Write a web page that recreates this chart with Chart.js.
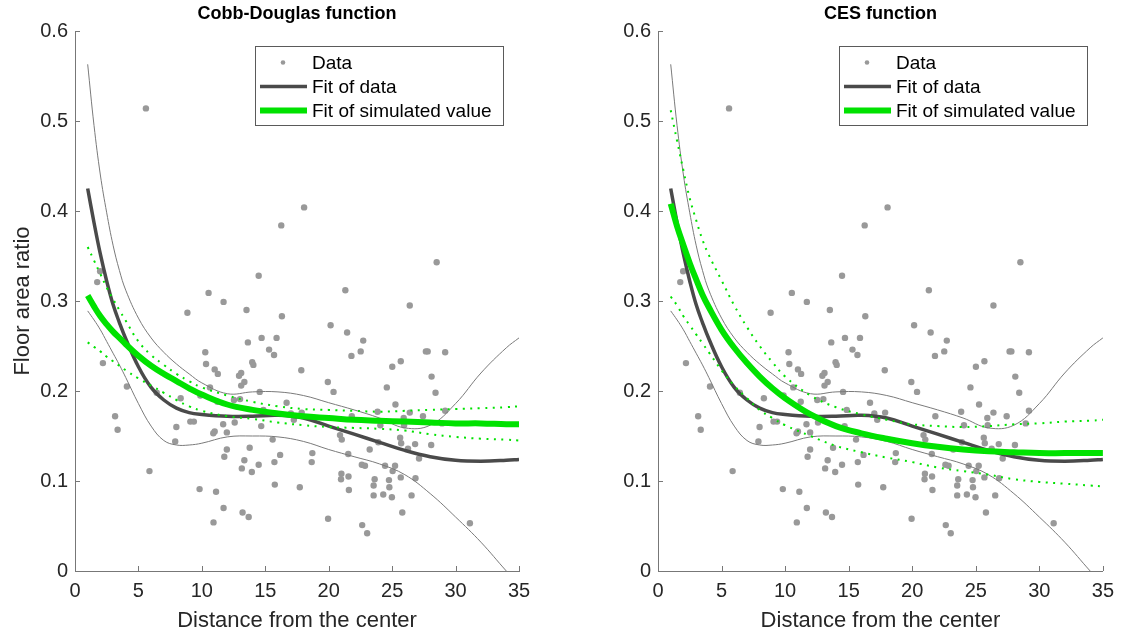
<!DOCTYPE html>
<html>
<head>
<meta charset="utf-8">
<script src="https://cdn.jsdelivr.net/npm/chart.js@4"></script>
<style>
  html, body { margin: 0; padding: 0; background: #fff; }
  #wrap { position: relative; width: 1122px; height: 640px; }
  #wrap canvas { position: absolute; top: 0; }
</style>
</head>
<body>
<div id="wrap">
  <canvas id="cobbDouglas" width="561" height="640" style="left:0"></canvas>
  <canvas id="ces" width="561" height="640" style="left:561px"></canvas>
</div>
<script>
// observed points (distance, floor area ratio) - same in both panels
const distX = [5.59, 18.06, 16.26, 28.51, 14.48, 1.75, 1.98, 21.31, 10.53, 11.71,
  26.39, 8.86, 13.52, 16.31, 20.15, 21.45, 14.71, 15.89, 22.72, 13.63,
  15.30, 22.52, 27.66, 27.80, 29.18, 10.27, 15.69, 21.79, 2.20, 10.33,
  13.97, 14.06, 25.68, 25.01, 11.01, 11.26, 17.84, 13.10, 12.93, 28.11,
  13.35, 19.93, 13.10, 10.64, 4.09, 24.58, 14.56, 20.38, 28.42, 9.88,
  6.44, 25.26, 16.68, 12.53, 13.01, 8.33, 11.23, 29.18, 23.85, 14.85,
  3.16, 27.43, 21.82, 26.39, 17.87, 17.02, 9.09, 9.37, 17.25, 12.59,
  25.91, 24.07, 25.94, 28.93, 11.68, 14.68, 3.36, 7.99, 11.01, 11.97,
  10.90, 20.89, 21.03, 25.63, 15.58, 26.81, 28.08, 7.90, 23.91, 25.71,
  26.25, 23.23, 13.77, 11.97, 11.77, 18.71, 21.54, 16.17, 27.12, 13.35,
  15.72, 18.66, 14.48, 22.61, 22.86, 24.44, 25.23, 13.15, 13.94, 5.87,
  25.04, 21.00, 20.97, 21.56, 23.62, 24.75, 26.84, 25.68, 15.75, 17.72,
  23.54, 24.78, 9.82, 11.12, 21.59, 23.54, 24.30, 24.98, 26.53, 11.71,
  13.21, 25.80, 13.69, 19.95, 10.92, 22.64, 31.13, 23.03];
const floorRatio = [0.514, 0.404, 0.384, 0.343, 0.328, 0.321, 0.333, 0.312, 0.309, 0.299,
  0.295, 0.287, 0.290, 0.283, 0.273, 0.265, 0.259, 0.259, 0.256, 0.254,
  0.246, 0.244, 0.244, 0.244, 0.243, 0.243, 0.240, 0.239, 0.231, 0.230,
  0.232, 0.229, 0.233, 0.227, 0.224, 0.219, 0.223, 0.220, 0.217, 0.216,
  0.210, 0.210, 0.206, 0.204, 0.205, 0.204, 0.199, 0.199, 0.198, 0.195,
  0.198, 0.185, 0.187, 0.190, 0.191, 0.192, 0.188, 0.178, 0.177, 0.179,
  0.172, 0.172, 0.172, 0.176, 0.176, 0.175, 0.166, 0.166, 0.168, 0.165,
  0.170, 0.162, 0.162, 0.164, 0.163, 0.161, 0.157, 0.160, 0.155, 0.154,
  0.153, 0.151, 0.146, 0.148, 0.146, 0.141, 0.140, 0.144, 0.143, 0.142,
  0.136, 0.135, 0.137, 0.135, 0.127, 0.131, 0.130, 0.129, 0.125, 0.123,
  0.121, 0.121, 0.118, 0.118, 0.117, 0.117, 0.117, 0.114, 0.110, 0.111,
  0.111, 0.108, 0.102, 0.105, 0.102, 0.101, 0.103, 0.104, 0.096, 0.093,
  0.095, 0.093, 0.091, 0.088, 0.090, 0.084, 0.085, 0.082, 0.084, 0.070,
  0.065, 0.065, 0.060, 0.058, 0.054, 0.051, 0.053, 0.042];

// x positions the fitted curves are read at
const fitX = [1, 1.5, 2, 2.5, 3, 3.5, 4, 5, 6, 7, 8, 9, 10, 12, 14, 16, 18, 20, 22, 24, 26, 28, 30, 32, 34, 35];

// fit of data + its bounds (same in both panels)
const fitData  = [0.425, 0.387, 0.352, 0.322, 0.296, 0.276, 0.258, 0.227, 0.204, 0.190, 0.181, 0.176, 0.174, 0.172, 0.172, 0.173, 0.170, 0.161, 0.152, 0.143, 0.134, 0.127, 0.123, 0.122, 0.123, 0.124];
const fitUpper = [0.563, 0.495, 0.440, 0.398, 0.362, 0.334, 0.312, 0.281, 0.259, 0.243, 0.230, 0.219, 0.209, 0.197, 0.199, 0.199, 0.195, 0.187, 0.179, 0.170, 0.159, 0.162, 0.186, 0.220, 0.248, 0.259];
const fitLower = [0.289, 0.279, 0.268, 0.255, 0.242, 0.229, 0.215, 0.186, 0.161, 0.145, 0.140, 0.140, 0.142, 0.149, 0.150, 0.149, 0.144, 0.135, 0.127, 0.119, 0.107, 0.086, 0.060, 0.032, 0.000, -0.015];

// fit of simulated value, Cobb-Douglas
const cdSim      = [0.306, 0.294, 0.283, 0.274, 0.266, 0.259, 0.252, 0.239, 0.228, 0.219, 0.211, 0.203, 0.196, 0.185, 0.179, 0.175, 0.172, 0.170, 0.168, 0.167, 0.166, 0.165, 0.164, 0.164, 0.163, 0.163];
const cdSimUpper = [0.360, 0.345, 0.330, 0.315, 0.302, 0.290, 0.278, 0.255, 0.240, 0.229, 0.219, 0.211, 0.204, 0.195, 0.188, 0.183, 0.180, 0.179, 0.178, 0.177, 0.178, 0.179, 0.180, 0.181, 0.182, 0.183];
const cdSimLower = [0.254, 0.249, 0.244, 0.238, 0.233, 0.228, 0.223, 0.214, 0.206, 0.198, 0.190, 0.183, 0.178, 0.172, 0.169, 0.165, 0.162, 0.160, 0.159, 0.158, 0.156, 0.152, 0.149, 0.147, 0.146, 0.145];

// fit of simulated value, CES
const cesSim      = [0.408, 0.383, 0.362, 0.342, 0.324, 0.307, 0.293, 0.268, 0.248, 0.231, 0.216, 0.203, 0.192, 0.174, 0.161, 0.153, 0.147, 0.142, 0.138, 0.135, 0.133, 0.132, 0.131, 0.131, 0.131, 0.131];
const cesSimUpper = [0.512, 0.478, 0.445, 0.414, 0.390, 0.368, 0.351, 0.323, 0.295, 0.271, 0.250, 0.232, 0.216, 0.195, 0.182, 0.174, 0.168, 0.163, 0.161, 0.160, 0.161, 0.163, 0.164, 0.166, 0.167, 0.168];
const cesSimLower = [0.305, 0.295, 0.283, 0.273, 0.263, 0.253, 0.243, 0.223, 0.206, 0.192, 0.179, 0.170, 0.162, 0.150, 0.139, 0.132, 0.126, 0.121, 0.115, 0.111, 0.107, 0.102, 0.099, 0.097, 0.095, 0.094];

const legendLabels = ['Data', 'Fit of data', 'Fit of simulated value'];

const FONT = '"Liberation Sans", Arial, Helvetica, sans-serif';
const TEXT = '#262626';
const AXIS = '#777777';
const DOT = '#999999';
const DARK = '#4a4a4a';
const THIN = '#7a7a7a';
const GREEN = '#00e200';

Chart.defaults.font.family = FONT;

function curve(ys) {
    return fitX.map((x, i) => ({ x: x, y: ys[i] }));
}

const points = distX.map((x, i) => ({ x: x, y: floorRatio[i] }));

// title, inward tick marks and the boxed legend (matlab style)
const panelDecor = {
    id: 'panelDecor',
    afterDraw(chart, args, opts) {
        const ctx = chart.ctx;
        const a = chart.chartArea;
        const xs = chart.scales.x, ys = chart.scales.y;
        ctx.save();

        ctx.strokeStyle = AXIS;
        ctx.lineWidth = 1;
        ctx.beginPath();
        xs.ticks.forEach(t => {
            const px = Math.round(xs.getPixelForValue(t.value)) + 0.5;
            ctx.moveTo(px, a.bottom);
            ctx.lineTo(px, a.bottom - 5);
        });
        ys.ticks.forEach(t => {
            const py = Math.round(ys.getPixelForValue(t.value)) + 0.5;
            ctx.moveTo(a.left, py);
            ctx.lineTo(a.left + 5, py);
        });
        ctx.stroke();

        ctx.fillStyle = '#000';
        ctx.font = 'bold 18px ' + FONT;
        ctx.textAlign = 'center';
        ctx.textBaseline = 'middle';
        ctx.fillText(opts.title, (a.left + a.right) / 2, 14);

        // legend box
        const w = 248, h = 79;
        const bx = Math.round(a.right - 16 - w), by = Math.round(a.top + 15);
        ctx.fillStyle = '#fff';
        ctx.fillRect(bx, by, w, h);
        ctx.strokeStyle = '#5a5a5a';
        ctx.strokeRect(bx + 0.5, by + 0.5, w, h);

        const rows = [by + 16.5, by + 40.5, by + 64.5];
        ctx.fillStyle = DOT;
        ctx.beginPath();
        ctx.arc(bx + 28, rows[0], 2.3, 0, Math.PI * 2);
        ctx.fill();

        ctx.lineCap = 'butt';
        ctx.strokeStyle = DARK;
        ctx.lineWidth = 3.5;
        ctx.beginPath();
        ctx.moveTo(bx + 5, rows[1]);
        ctx.lineTo(bx + 52, rows[1]);
        ctx.stroke();

        ctx.strokeStyle = GREEN;
        ctx.lineWidth = 6;
        ctx.beginPath();
        ctx.moveTo(bx + 5, rows[2]);
        ctx.lineTo(bx + 52, rows[2]);
        ctx.stroke();

        ctx.fillStyle = '#000';
        ctx.font = '19px ' + FONT;
        ctx.textAlign = 'left';
        legendLabels.forEach((label, i) => ctx.fillText(label, bx + 57, rows[i] + 1));

        ctx.restore();
    }
};

function lineSet(ys, color, width, order, dash) {
    return {
        data: curve(ys),
        showLine: true,
        borderColor: color,
        borderWidth: width,
        borderDash: dash || [],
        pointRadius: 0,
        tension: 0.4,
        order: order
    };
}

function renderPanel(target, title, sim, simUpper, simLower, yTitle, yWidth, padRight) {
    const datasets = [
        { data: points, pointRadius: 3.2, pointBackgroundColor: DOT, pointBorderWidth: 0, showLine: false, order: 6 },
        lineSet(fitUpper, THIN, 1, 4),
        lineSet(fitLower, THIN, 1, 4),
        lineSet(fitData, DARK, 3.5, 3),
        lineSet(sim, GREEN, 6, 1),
        lineSet(simUpper, GREEN, 2, 0, [2, 5.5]),
        lineSet(simLower, GREEN, 2, 0, [2, 5.5])
    ];

    new Chart(target, {
        type: 'scatter',
        data: { datasets: datasets },
        options: {
            responsive: false,
            animation: false,
            events: [],
            layout: { padding: { top: 31, right: padRight, left: 0, bottom: 0 } },
            plugins: {
                legend: { display: false },
                tooltip: { enabled: false },
                panelDecor: { title: title }
            },
            scales: {
                x: {
                    type: 'linear',
                    min: 0,
                    max: 35,
                    ticks: { stepSize: 5, font: { size: 20 }, color: TEXT, padding: 8 },
                    grid: { display: false, drawTicks: false },
                    border: { color: AXIS, width: 1 },
                    title: { display: true, text: 'Distance from the center', font: { size: 22 }, color: TEXT, padding: { top: 0, bottom: 6 } },
                    afterFit(scale) { scale.height = 69; }
                },
                y: {
                    type: 'linear',
                    min: 0,
                    max: 0.6,
                    ticks: { stepSize: 0.1, font: { size: 20 }, color: TEXT, padding: 7 },
                    grid: { display: false, drawTicks: false },
                    border: { color: AXIS, width: 1 },
                    title: { display: !!yTitle, text: yTitle, font: { size: 22 }, color: TEXT, padding: { top: 10, bottom: 0 } },
                    afterFit(scale) { scale.width = yWidth; }
                }
            }
        },
        plugins: [panelDecor]
    });
}

renderPanel(document.getElementById('cobbDouglas'), 'Cobb-Douglas function', cdSim, cdSimUpper, cdSimLower, 'Floor area ratio', 75, 42);
renderPanel(document.getElementById('ces'), 'CES function', cesSim, cesSimUpper, cesSimLower, '', 97, 19);
</script>
</body>
</html>
